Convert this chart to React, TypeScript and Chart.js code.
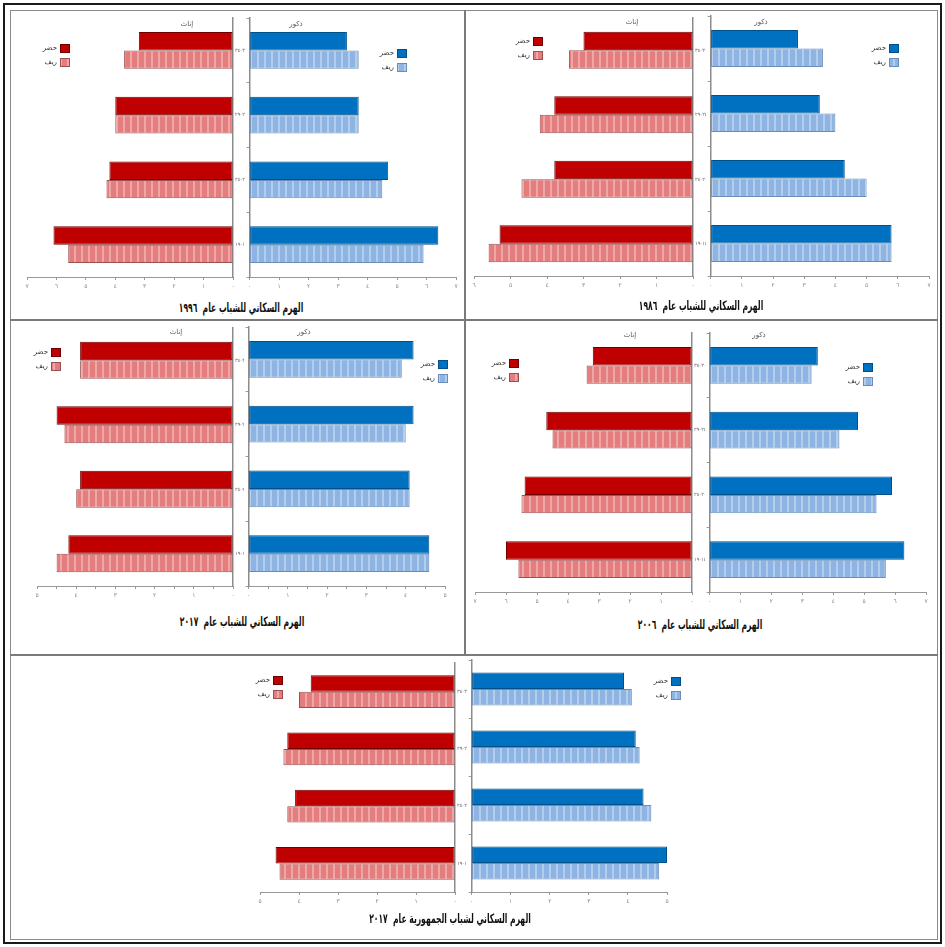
import React, { useEffect, useRef } from 'react';
import { Chart, registerables } from 'chart.js';
Chart.register(...registerables);

// ---------- data ----------
const ageGroups = ['٣٠-٣٤', '٢٥-٢٩', '٢٠-٢٤', '١٥-١٩'];
const seriesNames = ['حضر', 'ريف'];
const arabicDigits = ['٠', '١', '٢', '٣', '٤', '٥', '٦', '٧', '٨', '٩'];
const sideLabels = ['إناث', 'ذكور'];

// 1996
const female1996Urban = [3.2, 4.0, 4.2, 6.1];
const female1996Rural = [3.7, 4.0, 4.3, 5.6];
const male1996Urban = [3.3, 3.7, 4.7, 6.4];
const male1996Rural = [3.7, 3.7, 4.5, 5.9];
// 1986
const female1986Urban = [3.0, 3.8, 3.8, 5.3];
const female1986Rural = [3.4, 4.2, 4.7, 5.6];
const male1986Urban = [2.8, 3.5, 4.3, 5.8];
const male1986Rural = [3.6, 4.0, 5.0, 5.8];
// 2017
const female2017Urban = [3.9, 4.5, 3.9, 4.2];
const female2017Rural = [3.9, 4.3, 4.0, 4.5];
const male2017Urban = [4.2, 4.2, 4.1, 4.6];
const male2017Rural = [3.9, 4.0, 4.1, 4.6];
// 2006
const female2006Urban = [3.2, 4.7, 5.4, 6.0];
const female2006Rural = [3.4, 4.5, 5.5, 5.6];
const male2006Urban = [3.5, 4.8, 5.9, 6.3];
const male2006Rural = [3.3, 4.2, 5.4, 5.7];
// Republic 2017
const femaleRepUrban = [3.7, 4.3, 4.1, 4.6];
const femaleRepRural = [4.0, 4.4, 4.3, 4.5];
const maleRepUrban = [3.9, 4.2, 4.4, 5.0];
const maleRepRural = [4.1, 4.3, 4.6, 4.8];

const titles = [
  'الهرم السكاني للشباب عام  ١٩٩٦',
  'الهرم السكاني للشباب عام  ١٩٨٦',
  'الهرم السكاني للشباب عام  ٢٠١٧',
  'الهرم السكاني للشباب عام  ٢٠٠٦',
  'الهرم السكاني لشباب الجمهورية عام  ٢٠١٧',
];

// ---------- styles ----------
const FONT = '"DejaVu Sans", sans-serif';
const femalePalette = { urban: '#C00000', urbanBorder: '#6e0000', rural: '#E47E7E', ruralStripe: '#EEA6A6', ruralBorder: '#9a5050' };
const malePalette = { urban: '#0070C0', urbanBorder: '#004f88', rural: '#8DB4E2', ruralStripe: '#B3CDED', ruralBorder: '#6a8cb8' };

function toArabic(n: number) {
  return String(n).split('').map((c) => (c >= '0' && c <= '9' ? arabicDigits[+c] : c)).join('');
}

function makeStripes(ctx: CanvasRenderingContext2D, base: string, stripe: string) {
  const c = document.createElement('canvas');
  c.width = 7; c.height = 4;
  const x = c.getContext('2d')!;
  x.fillStyle = base; x.fillRect(0, 0, 7, 4);
  x.fillStyle = stripe; x.fillRect(5, 0, 2, 4);
  return ctx.createPattern(c, 'repeat')!;
}

const miniLegend = {
  id: 'miniLegend',
  afterDraw(chart: any, _args: any, opts: any) {
    const { ctx } = chart;
    ctx.save();
    ctx.font = '7px ' + FONT;
    ctx.textAlign = 'right';
    ctx.textBaseline = 'middle';
    chart.data.datasets.forEach((d: any, i: number) => {
      const x = opts.x, y = opts.y + i * 14;
      ctx.fillStyle = d.backgroundColor; ctx.fillRect(x, y, 10, 8);
      ctx.strokeStyle = d.borderColor; ctx.lineWidth = 1; ctx.strokeRect(x + 0.5, y + 0.5, 9, 8);
      ctx.fillStyle = '#333'; ctx.fillText(d.label, x - 3, y + 4);
    });
    ctx.restore();
  },
};

type HalfProps = {
  side: 'f' | 'm'; urban: number[]; rural: number[]; max: number; step: number;
  left: number; top: number; w: number; h: number;
  padLeft: number; padRight: number; padTop: number; yAxisW: number; xAxisH: number;
  legendX: number; legendY: number;
};

function Half(p: HalfProps) {
  const ref = useRef<HTMLCanvasElement>(null);
  useEffect(() => {
    const canvas = ref.current!;
    const ctx = canvas.getContext('2d')!;
    const isF = p.side === 'f';
    const pal = isF ? femalePalette : malePalette;
    const chart = new Chart(canvas, {
      type: 'bar',
      data: {
        labels: ageGroups,
        datasets: [
          { label: seriesNames[0], data: p.urban, backgroundColor: pal.urban, borderColor: pal.urbanBorder, borderWidth: 1, borderSkipped: false },
          { label: seriesNames[1], data: p.rural, backgroundColor: makeStripes(ctx, pal.rural, pal.ruralStripe), borderColor: pal.ruralBorder, borderWidth: 1, borderSkipped: false },
        ] as any,
      },
      options: {
        indexAxis: 'y', responsive: false, animation: false, events: [],
        layout: { padding: { left: p.padLeft, right: p.padRight, top: p.padTop, bottom: 0 } },
        datasets: { bar: { categoryPercentage: 0.57, barPercentage: 1 } },
        plugins: { legend: { display: false }, tooltip: { enabled: false }, miniLegend: { x: p.legendX, y: p.legendY } } as any,
        scales: {
          x: {
            type: 'linear', reverse: isF, min: 0, max: p.max,
            afterFit: (s: any) => { s.height = p.xAxisH; },
            grid: { drawOnChartArea: false, drawTicks: true, tickLength: 3, color: '#999' },
            border: { display: true, color: '#999', width: 1 },
            ticks: {
              stepSize: p.step, autoSkip: false, maxRotation: 0, padding: 3,
              font: { size: 6, family: FONT }, color: '#888',
              callback: (v: any) => (Number.isInteger(v) ? toArabic(v) : ''),
            },
          },
          y: {
            type: 'category', position: isF ? 'right' : 'left',
            afterFit: (s: any) => { s.width = p.yAxisW; },
            grid: { offset: true, drawOnChartArea: false, drawTicks: !isF, tickLength: 3, color: '#999' },
            border: { display: true, color: '#8c8c8c', width: 1.5 },
            ticks: { display: isF, padding: 2, font: { size: 5, family: FONT }, color: '#666' },
          },
        },
      } as any,
      plugins: [miniLegend],
    });
    return () => chart.destroy();
  }, []);
  return (
    <canvas ref={ref} width={p.w} height={p.h} dir="rtl"
      style={{ position: 'absolute', left: p.left, top: p.top, width: p.w, height: p.h }} />
  );
}

type PanelProps = {
  px0: number; px1: number; py0: number;
  fL: number; fR: number; mL: number; mR: number; top: number; bottom: number;
  fMax: number; mMax: number; step: number;
  fu: number[]; fr: number[]; mu: number[]; mr: number[];
  title: string; titleX: number; titleY: number;
  sideY?: number; fLabelX?: number; mLabelX?: number;
  fLeg: [number, number]; mLeg: [number, number];
};

function Panel(p: PanelProps) {
  const ct = p.py0 + 2;
  const cb = p.bottom + 22;
  const fcl = p.px0 + 2, fcr = p.mL - 4;
  const mcl = p.mL - 4, mcr = p.px1 - 2;
  return (
    <>
      <Half side="f" urban={p.fu} rural={p.fr} max={p.fMax} step={p.step}
        left={fcl} top={ct} w={fcr - fcl} h={cb - ct}
        padLeft={p.fL - fcl} padRight={0} padTop={p.top - ct} yAxisW={fcr - p.fR} xAxisH={cb - p.bottom}
        legendX={p.fLeg[0] - fcl} legendY={p.fLeg[1] - ct} />
      <Half side="m" urban={p.mu} rural={p.mr} max={p.mMax} step={p.step}
        left={mcl} top={ct} w={mcr - mcl} h={cb - ct}
        padLeft={0} padRight={mcr - p.mR} padTop={p.top - ct} yAxisW={p.mL - mcl} xAxisH={cb - p.bottom}
        legendX={p.mLeg[0] - mcl} legendY={p.mLeg[1] - ct} />
      {p.sideY !== undefined && (
        <>
          <div style={{ ...smallLabel, left: p.fLabelX, top: p.sideY }}>{sideLabels[0]}</div>
          <div style={{ ...smallLabel, left: p.mLabelX, top: p.sideY }}>{sideLabels[1]}</div>
        </>
      )}
      <div style={{ ...titleStyle, left: p.titleX, top: p.titleY }}>{p.title}</div>
    </>
  );
}

const smallLabel: React.CSSProperties = {
  position: 'absolute', transform: 'translate(-50%, -50%)', fontFamily: FONT, fontSize: 7,
  color: '#555', direction: 'rtl', whiteSpace: 'nowrap',
};
const titleStyle: React.CSSProperties = {
  position: 'absolute', transform: 'translate(-50%, -50%) scaleX(0.65)', fontFamily: '"DejaVu Sans Condensed", "DejaVu Sans", sans-serif', fontSize: 13,
  fontWeight: 'bold', color: '#111', direction: 'rtl', whiteSpace: 'pre',
};

function Line({ x, y, w, h, c = '#7a7a7a' }: { x: number; y: number; w: number; h: number; c?: string }) {
  return <div style={{ position: 'absolute', left: x, top: y, width: w, height: h, background: c }} />;
}

export default function App() {
  return (
    <div style={{ position: 'absolute', left: 0, top: 0, width: 945, height: 947, background: '#fff', overflow: 'hidden' }}>
      {/* outer frame */}
      <div style={{ position: 'absolute', left: 3, top: 3, width: 935, height: 937, border: '2px solid #1a1a1a' }} />
      <div style={{ position: 'absolute', left: 10, top: 10, width: 926, height: 928, border: '1px solid #8a8a8a' }} />
      <Line x={464} y={10} w={2} h={646} />
      <Line x={10} y={319} w={928} h={2} />
      <Line x={10} y={654} w={928} h={2} />

      <Panel px0={11} px1={464} py0={11}
        fL={27} fR={233} mL={249} mR={456} top={18} bottom={277}
        fMax={7} mMax={7} step={1}
        fu={female1996Urban} fr={female1996Rural} mu={male1996Urban} mr={male1996Rural}
        title={titles[0]} titleX={241} titleY={307}
        sideY={24} fLabelX={187} mLabelX={296}
        fLeg={[60, 44]} mLeg={[397, 49]} />

      <Panel px0={466} px1={937} py0={11}
        fL={474} fR={693} mL={710} mR={929} top={16} bottom={276}
        fMax={6} mMax={7} step={1}
        fu={female1986Urban} fr={female1986Rural} mu={male1986Urban} mr={male1986Rural}
        title={titles[1]} titleX={701} titleY={305}
        sideY={22} fLabelX={632} mLabelX={761}
        fLeg={[533, 37]} mLeg={[889, 44]} />

      <Panel px0={11} px1={464} py0={321}
        fL={37} fR={233} mL={248} mR={445} top={327} bottom={586}
        fMax={5} mMax={5} step={0.5}
        fu={female2017Urban} fr={female2017Rural} mu={male2017Urban} mr={male2017Rural}
        title={titles[2]} titleX={242} titleY={621}
        sideY={332} fLabelX={176} mLabelX={304}
        fLeg={[51, 348]} mLeg={[438, 360]} />

      <Panel px0={466} px1={937} py0={321}
        fL={475} fR={692} mL={709} mR={926} top={333} bottom={592}
        fMax={7} mMax={7} step={1}
        fu={female2006Urban} fr={female2006Rural} mu={male2006Urban} mr={male2006Rural}
        title={titles[3]} titleX={700} titleY={624}
        sideY={335} fLabelX={630} mLabelX={759}
        fLeg={[509, 359]} mLeg={[863, 363]} />

      <Panel px0={11} px1={937} py0={656}
        fL={260} fR={455} mL={471} mR={667} top={660} bottom={892}
        fMax={5} mMax={5} step={1}
        fu={femaleRepUrban} fr={femaleRepRural} mu={maleRepUrban} mr={maleRepRural}
        title={titles[4]} titleX={450} titleY={918}
        fLeg={[273, 676]} mLeg={[671, 677]} />
    </div>
  );
}
